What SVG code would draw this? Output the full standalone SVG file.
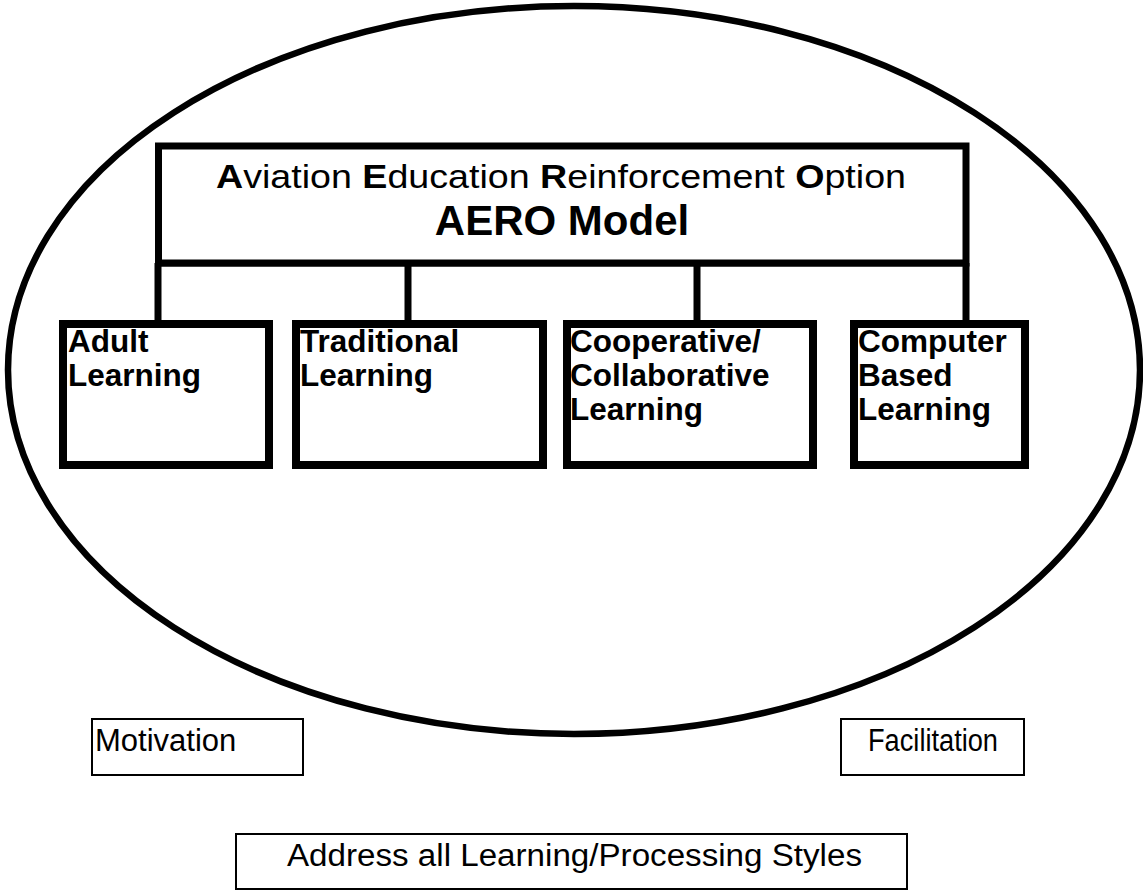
<svg xmlns="http://www.w3.org/2000/svg" width="1143" height="893" viewBox="0 0 1143 893">
  <style>
    text { font-family: "Liberation Sans", Arial, sans-serif; fill: #000; }
    .heavy { fill: #fff; stroke: #000; stroke-width: 8; }
    .thin { fill: #fff; stroke: #000; stroke-width: 2; }
    .wire { fill: none; stroke: #000; stroke-width: 7; }
    .title { font-size: 34px; }
    .model { font-size: 42px; font-weight: bold; }
    .branch { font-size: 31.5px; font-weight: bold; }
    .note { font-size: 31px; }
    .b { font-weight: bold; }
  </style>
  <rect width="1143" height="893" fill="#fff"/>

  <!-- outer boundary -->
  <g id="boundary">
    <ellipse cx="574" cy="370" rx="566" ry="364" fill="none" stroke="#000" stroke-width="6.5"/>
  </g>

  <!-- connectors from the model box down to each branch -->
  <g id="connectors">
    <line class="wire" x1="158" y1="263" x2="966" y2="263"/>
    <line class="wire" x1="158" y1="263" x2="158" y2="322"/>
    <line class="wire" x1="408" y1="263" x2="408" y2="322"/>
    <line class="wire" x1="697" y1="263" x2="697" y2="322"/>
    <line class="wire" x1="966" y1="263" x2="966" y2="322"/>
  </g>

  <g id="aero-model">
    <rect x="158.5" y="146" width="807.5" height="117" fill="#fff" stroke="#000" stroke-width="7"/>
    <text class="title" x="216" y="188" textLength="690" lengthAdjust="spacingAndGlyphs"><tspan class="b">A</tspan>viation <tspan class="b">E</tspan>ducation <tspan class="b">R</tspan>einforcement <tspan class="b">O</tspan>ption</text>
    <text class="model" x="562" y="235" text-anchor="middle">AERO Model</text>
  </g>

  <g id="adult-learning">
    <rect class="heavy" x="63" y="324" width="206" height="141"/>
    <text class="branch" x="68" y="352">Adult</text>
    <text class="branch" x="68" y="386">Learning</text>
  </g>

  <g id="traditional-learning">
    <rect class="heavy" x="296" y="324" width="247" height="141"/>
    <text class="branch" x="300" y="352">Traditional</text>
    <text class="branch" x="300" y="386">Learning</text>
  </g>

  <g id="cooperative-learning">
    <rect class="heavy" x="567" y="324" width="246" height="141"/>
    <text class="branch" x="570" y="352">Cooperative/</text>
    <text class="branch" x="570" y="386">Collaborative</text>
    <text class="branch" x="570" y="420">Learning</text>
  </g>

  <g id="computer-based-learning">
    <rect class="heavy" x="854" y="324" width="171" height="141"/>
    <text class="branch" x="858" y="352">Computer</text>
    <text class="branch" x="858" y="386">Based</text>
    <text class="branch" x="858" y="420">Learning</text>
  </g>

  <g id="motivation">
    <rect class="thin" x="92" y="719" width="211" height="56"/>
    <text class="note" x="95" y="751">Motivation</text>
  </g>

  <g id="facilitation">
    <rect class="thin" x="841" y="719" width="183" height="56"/>
    <text class="note" x="868" y="751" textLength="130" lengthAdjust="spacingAndGlyphs">Facilitation</text>
  </g>

  <g id="learning-styles">
    <rect class="thin" x="236" y="834" width="671" height="55"/>
    <text class="note" x="287" y="866" textLength="575" lengthAdjust="spacingAndGlyphs">Address all Learning/Processing Styles</text>
  </g>
</svg>
